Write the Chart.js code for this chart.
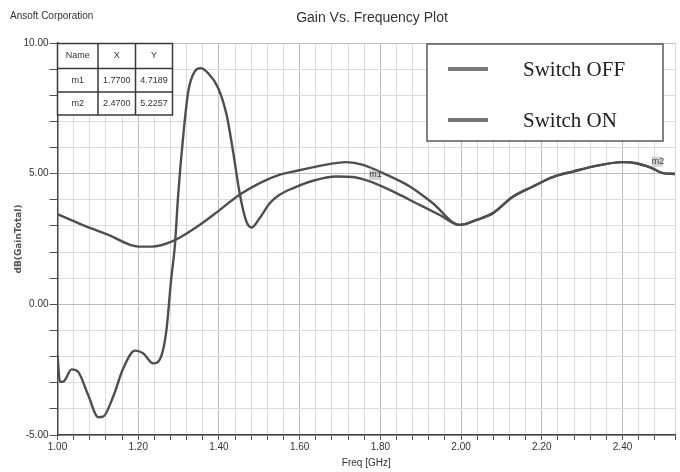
<!DOCTYPE html>
<html>
<head>
<meta charset="utf-8">
<title>Gain Vs. Frequency Plot</title>
<script src="https://cdn.jsdelivr.net/npm/chart.js@4"></script>
<style>
  html, body { margin: 0; padding: 0; background: #fff; }
  #wrap { width: 680px; height: 472px; position: relative; }
</style>
</head>
<body>
<div id="wrap"><canvas id="gainChart" width="680" height="472"></canvas></div>
<script>
// Switch OFF trace (resonant peak near 1.35 GHz)
const offFreq = [1.000, 1.006, 1.014, 1.035, 1.051, 1.076, 1.101, 1.113, 1.138, 1.163, 1.192, 1.212, 1.237, 1.258,
  1.270, 1.2815, 1.291, 1.299, 1.311, 1.324, 1.340, 1.354, 1.373, 1.398, 1.419, 1.435, 1.452, 1.468, 1.481,
  1.501, 1.526, 1.551, 1.584, 1.633, 1.691, 1.732, 1.770, 1.831, 1.889, 1.947, 1.996,
  2.038, 2.079, 2.128, 2.178, 2.227, 2.277, 2.326, 2.400, 2.434, 2.470, 2.500, 2.530];
const offGain = [-1.95, -2.96, -2.96, -2.49, -2.58, -3.47, -4.32, -4.30, -3.53, -2.45, -1.77, -1.87, -2.26, -1.94,
  -0.98, 0.94, 2.27, 4.19, 6.36, 8.15, 8.91, 9.04, 8.85, 8.28, 7.25, 5.85, 4.19, 3.17, 2.94,
  3.30, 3.87, 4.20, 4.45, 4.73, 4.89, 4.87, 4.72, 4.32, 3.87, 3.42, 3.04,
  3.23, 3.49, 4.12, 4.51, 4.87, 5.08, 5.27, 5.44, 5.40, 5.23, 5.02, 4.99];

// Switch ON trace (smooth)
const onFreq = [1.000, 1.060, 1.126, 1.200, 1.233, 1.287, 1.340, 1.386, 1.452, 1.501, 1.551, 1.584, 1.650,
  1.716, 1.757, 1.815, 1.873, 1.930, 1.996,
  2.038, 2.079, 2.128, 2.178, 2.227, 2.277, 2.326, 2.400, 2.434, 2.470, 2.500, 2.530];
const onGain = [3.45, 3.05, 2.66, 2.21, 2.21, 2.43, 2.91, 3.42, 4.20, 4.64, 4.96, 5.08, 5.30,
  5.44, 5.34, 4.96, 4.51, 3.87, 3.04,
  3.23, 3.49, 4.12, 4.51, 4.87, 5.08, 5.27, 5.44, 5.40, 5.23, 5.02, 4.99];

const seriesNames = ["Switch OFF", "Switch ON"];

// marker table
const markerNames = ["m1", "m2"];
const markerX = [1.7700, 2.4700];
const markerY = [4.7189, 5.2257];

const NARROW = '"Liberation Sans Narrow", "Liberation Sans", "DejaVu Sans", sans-serif';
const lineColor = "#4f4f4f";

function toPoints(xs, ys) {
  return xs.map((x, i) => ({ x: x, y: ys[i] }));
}

function isMultiple(v, step) {
  const r = v / step;
  return Math.abs(r - Math.round(r)) < 1e-6;
}

// titles, marker table, marker tags and the legend box
const decorations = {
  id: "decorations",
  afterDraw(chart) {
    const ctx = chart.ctx;
    const xs = chart.scales.x;
    const ys = chart.scales.y;
    ctx.save();

    ctx.fillStyle = "#333";
    ctx.textBaseline = "middle";
    ctx.font = "10px " + NARROW;
    ctx.textAlign = "left";
    ctx.fillText("Ansoft Corporation", 10, 16);
    ctx.font = "14px " + NARROW;
    ctx.textAlign = "center";
    ctx.fillText("Gain Vs. Frequency Plot", 372, 18);

    // marker tags on the traces
    ctx.font = "9px " + NARROW;
    markerNames.forEach((name, i) => {
      const px = xs.getPixelForValue(markerX[i]);
      const py = ys.getPixelForValue(markerY[i]);
      ctx.fillStyle = "rgba(160,160,160,0.45)";
      ctx.fillRect(px + 1, py - 11, 11, 10);
      ctx.fillStyle = "#444";
      ctx.textAlign = "left";
      ctx.fillText(name, px + 1, py - 6);
    });

    // marker table
    const cols = [57.5, 98, 135.5, 172.5];
    const rows = [43.5, 68.5, 92, 115];
    ctx.fillStyle = "#fff";
    ctx.fillRect(cols[0], rows[0], cols[3] - cols[0], rows[3] - rows[0]);
    ctx.strokeStyle = "#3a3a3a";
    ctx.lineWidth = 1.5;
    ctx.strokeRect(cols[0], rows[0], cols[3] - cols[0], rows[3] - rows[0]);
    ctx.beginPath();
    for (let c = 1; c < 3; c++) { ctx.moveTo(cols[c], rows[0]); ctx.lineTo(cols[c], rows[3]); }
    for (let r = 1; r < 3; r++) { ctx.moveTo(cols[0], rows[r]); ctx.lineTo(cols[3], rows[r]); }
    ctx.stroke();
    const cells = [["Name", "X", "Y"]];
    markerNames.forEach((n, i) => cells.push([n, markerX[i].toFixed(4), markerY[i].toFixed(4)]));
    ctx.fillStyle = "#333";
    ctx.font = "9px " + NARROW;
    ctx.textAlign = "center";
    cells.forEach((row, r) => {
      row.forEach((txt, c) => {
        ctx.fillText(txt, (cols[c] + cols[c + 1]) / 2, (rows[r] + rows[r + 1]) / 2);
      });
    });

    // legend box
    ctx.fillStyle = "#fff";
    ctx.fillRect(427, 44, 236, 97);
    ctx.strokeStyle = "#5a5a5a";
    ctx.lineWidth = 1.5;
    ctx.strokeRect(427, 44, 236, 97);
    ctx.font = '21px "Liberation Serif", "DejaVu Serif", serif';
    ctx.textAlign = "left";
    chart.data.datasets.forEach((ds, i) => {
      const y = 69 + i * 51;
      ctx.strokeStyle = "#777";
      ctx.lineWidth = 4;
      ctx.beginPath();
      ctx.moveTo(448, y);
      ctx.lineTo(488, y);
      ctx.stroke();
      ctx.fillStyle = "#222";
      ctx.fillText(ds.label, 523, y + 1);
    });

    ctx.restore();
  }
};

const ctx = document.getElementById("gainChart").getContext("2d");
new Chart(ctx, {
  type: "scatter",
  data: {
    datasets: [
      {
        label: seriesNames[0],
        data: toPoints(offFreq, offGain),
        showLine: true,
        borderColor: lineColor,
        borderWidth: 2.4,
        pointRadius: 0,
        cubicInterpolationMode: "monotone"
      },
      {
        label: seriesNames[1],
        data: toPoints(onFreq, onGain),
        showLine: true,
        borderColor: lineColor,
        borderWidth: 2.4,
        pointRadius: 0,
        cubicInterpolationMode: "monotone"
      }
    ]
  },
  options: {
    responsive: false,
    animation: false,
    layout: { padding: { left: 0, top: 43, right: 5, bottom: 0 } },
    plugins: {
      legend: { display: false },
      tooltip: { enabled: false }
    },
    scales: {
      x: {
        type: "linear",
        min: 1.0,
        max: 2.53,
        afterFit(scale) { scale.height = 37; },
        border: { color: "#444", width: 1.5 },
        grid: {
          color: c => (c.tick && isMultiple(c.tick.value, 0.2) ? "#bdbdbd" : "#dcdcdc"),
          tickColor: "#555",
          tickLength: 5
        },
        ticks: {
          stepSize: 0.04,
          autoSkip: false,
          maxRotation: 0,
          padding: 1,
          color: "#333",
          font: { family: NARROW, size: 10 },
          callback: v => (isMultiple(v, 0.2) ? v.toFixed(2) : "")
        },
        title: {
          display: true,
          text: "Freq [GHz]",
          color: "#333",
          padding: { top: 0, bottom: 3 },
          font: { family: NARROW, size: 10 }
        }
      },
      y: {
        min: -5,
        max: 10,
        afterFit(scale) { scale.width = 57.5; },
        border: { color: "#444", width: 1.5 },
        grid: {
          color: c => (c.tick && isMultiple(c.tick.value, 5) ? "#bdbdbd" : "#dcdcdc"),
          tickColor: "#555",
          tickLength: 8
        },
        ticks: {
          stepSize: 1,
          autoSkip: false,
          padding: 1,
          color: "#333",
          font: { family: NARROW, size: 10 },
          callback: v => (isMultiple(v, 5) ? v.toFixed(2) : "")
        },
        title: {
          display: true,
          text: "dB(GainTotal)",
          color: "#555",
          padding: { top: 13, bottom: 0 },
          font: { family: '"DejaVu Sans", sans-serif', size: 9, weight: "bold" }
        }
      }
    }
  },
  plugins: [decorations]
});
</script>
</body>
</html>
